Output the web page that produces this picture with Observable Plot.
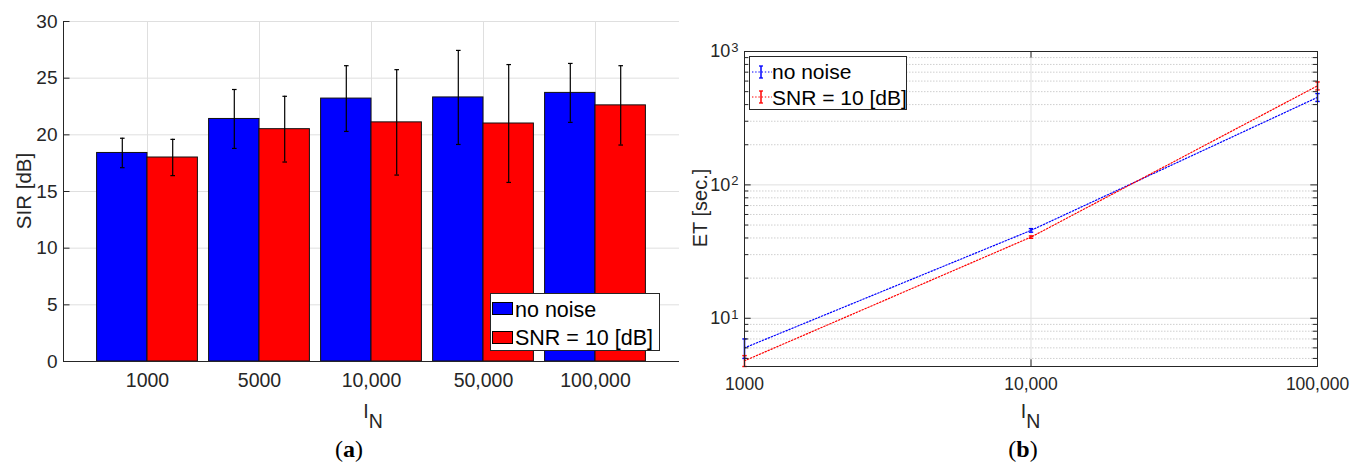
<!DOCTYPE html>
<html>
<head>
<meta charset="utf-8">
<script src="https://cdn.jsdelivr.net/npm/d3@7"></script>
<script src="https://cdn.jsdelivr.net/npm/@observablehq/plot@0.6"></script>
<style>
  body { margin: 0; background: #fff; }
  #wrap { position: relative; width: 1352px; height: 464px; overflow: hidden;
          font-family: "Liberation Sans", Arial, Helvetica, sans-serif; color: #262626; background:#fff; }
  #wrap svg { position: absolute; top: 0; }
  .lab { position: absolute; white-space: nowrap; line-height: 1; }
  .legend { position: absolute; box-sizing: border-box; border: 1px solid #262626; background: #fff; }
  .legend .sw { position: absolute; box-sizing: border-box; border: 1px solid #000; }
  .legend .tx { position: absolute; white-space: nowrap; line-height: 1; color: #000; }
  .cap { position: absolute; white-space: nowrap; line-height: 1; color: #000;
         font-family: "Liberation Serif", "DejaVu Serif", serif; font-size: 24px; transform: translateX(-50%); }
</style>
</head>
<body>
<div id="wrap"></div>
<script>
// ---------------- data ----------------
const categories = ["1000", "5000", "10,000", "50,000", "100,000"];
const series = ["no noise", "SNR = 10 [dB]"];
const sirNoNoise    = [18.4, 21.4, 23.2, 23.3, 23.7];
const sirNoNoiseErr = [1.3, 2.6, 2.9, 4.15, 2.6];
const sirSnr10      = [18.0, 20.5, 21.1, 21.0, 22.6];
const sirSnr10Err   = [1.6, 2.9, 4.65, 5.2, 3.5];
const sirTicks = [0, 5, 10, 15, 20, 25, 30];

const etIN = [1000, 10000, 100000];
const etNoNoise    = [6.0, 45.6, 453];
const etNoNoiseErr = [1.0, 1.4, 31];
const etSnr10      = [4.8, 40.6, 553];
const etSnr10Err   = [0.45, 0.8, 38];
const etXTickLabels = ["1000", "10,000", "100,000"];
const etYTicks = [10, 100, 1000];
const etYTickBase = "10";
const etYTickExponents = ["1", "2", "3"];

const colors = ["#0000ff", "#ff0000"];
const font = '"Liberation Sans", Arial, Helvetica, sans-serif';
const axisColor = "#262626";
const gridColor = "#dfdfdf";

// horizontal-line symbol for error-bar caps
const capSymbol = { draw(ctx, size) { const r = Math.sqrt(size / Math.PI); ctx.moveTo(-r, 0); ctx.lineTo(r, 0); } };

const wrap = document.getElementById("wrap");

// ---------------- (a) bar chart ----------------
const barRows = [];
categories.forEach((c, i) => {
  barRows.push({ pos: i + 1, side: -1, series: series[0], value: sirNoNoise[i], err: sirNoNoiseErr[i] });
  barRows.push({ pos: i + 1, side: 1, series: series[1], value: sirSnr10[i], err: sirSnr10Err[i] });
});
const bw = 0.45;
const xc = d => d.pos + d.side * bw / 2;

const LW = 700, LH = 400, LML = 63, LMR = 21, LMT = 21, LMB = 39;
const lpw = LW - LML - LMR;

const left = Plot.plot({
  width: LW, height: LH,
  marginLeft: LML, marginRight: LMR, marginTop: LMT, marginBottom: LMB,
  style: { fontFamily: font, fontSize: "19px", color: axisColor, background: "transparent", overflow: "visible" },
  x: { type: "linear", domain: [0.25, 5.75] },
  y: { domain: [0, 30] },
  color: { domain: series, range: colors },
  marks: [
    Plot.gridY(sirTicks, { stroke: gridColor, strokeOpacity: 1 }),
    Plot.gridX([1, 2, 3, 4, 5], { stroke: gridColor, strokeOpacity: 1 }),
    Plot.rectY(barRows, {
      x1: d => d.side < 0 ? d.pos - bw : d.pos,
      x2: d => d.side < 0 ? d.pos : d.pos + bw,
      y1: 0, y2: "value", fill: "series", stroke: "#111", strokeWidth: 1
    }),
    Plot.ruleX(barRows, { x: xc, y1: d => d.value - d.err, y2: d => d.value + d.err, stroke: "#000", strokeWidth: 1.2 }),
    Plot.dot(barRows, { x: xc, y: d => d.value + d.err, symbol: capSymbol, r: 2.3, stroke: "#000", fill: "none", strokeWidth: 1.2 }),
    Plot.dot(barRows, { x: xc, y: d => d.value - d.err, symbol: capSymbol, r: 2.3, stroke: "#000", fill: "none", strokeWidth: 1.2 }),
    Plot.tickY(sirTicks, { y: d => d, insetRight: lpw - 6.5, stroke: axisColor }),
    Plot.ruleX([0.25], { stroke: axisColor }),
    Plot.ruleY([0], { stroke: axisColor }),
    Plot.axisY({ ticks: sirTicks, tickSize: 0, tickPadding: 6, label: null, fill: axisColor, fontSize: 19 }),
    Plot.axisX({ ticks: [1, 2, 3, 4, 5], tickSize: 0, tickPadding: 12, label: null, fill: axisColor, fontSize: 19.5,
                 tickFormat: d => categories[d - 1] })
  ]
});
left.style.left = "0px";
wrap.appendChild(left);

// ---------------- (b) log-log line chart ----------------
const etRows = [];
etIN.forEach((n, i) => {
  etRows.push({ n, series: series[0], value: etNoNoise[i], err: etNoNoiseErr[i] });
  etRows.push({ n, series: series[1], value: etSnr10[i], err: etSnr10Err[i] });
});
const yMin = 4.35;
const minorY = [];
[1, 10, 100].forEach(dec => { for (let k = 2; k <= 9; k++) { const v = k * dec; if (v >= yMin && v < 1000) minorY.push(v); } });

const RW = 672, RH = 400, RML = 64, RMR = 35, RMT = 51, RMB = 34;
const rpw = RW - RML - RMR, rph = RH - RMT - RMB;

const right = Plot.plot({
  width: RW, height: RH,
  marginLeft: RML, marginRight: RMR, marginTop: RMT, marginBottom: RMB,
  style: { fontFamily: font, fontSize: "17.5px", color: axisColor, background: "transparent", overflow: "visible" },
  x: { type: "log", domain: [1000, 100000] },
  y: { type: "log", domain: [yMin, 1000] },
  color: { domain: series, range: colors },
  marks: [
    Plot.gridY(minorY, { stroke: "#cfcfcf", strokeOpacity: 1, strokeDasharray: "1.5,1.5" }),
    Plot.gridY([10, 100], { stroke: gridColor, strokeOpacity: 1 }),
    Plot.gridX([10000], { stroke: gridColor, strokeOpacity: 1 }),
    Plot.line(etRows, { x: "n", y: "value", z: "series", stroke: "series", strokeWidth: 1.2, strokeDasharray: "1.4,1.8" }),
    Plot.ruleX(etRows, { x: "n", y1: d => d.value - d.err, y2: d => d.value + d.err, stroke: "series", strokeWidth: 1.6 }),
    Plot.dot(etRows, { x: "n", y: d => d.value + d.err, symbol: capSymbol, r: 2.2, stroke: "series", fill: "none", strokeWidth: 1.4 }),
    Plot.dot(etRows, { x: "n", y: d => d.value - d.err, symbol: capSymbol, r: 2.2, stroke: "series", fill: "none", strokeWidth: 1.4 }),
    Plot.frame({ stroke: axisColor }),
    Plot.tickY(etYTicks, { y: d => d, insetRight: rpw - 6.7, stroke: axisColor }),
    Plot.tickY(etYTicks, { y: d => d, insetLeft: rpw - 6.7, stroke: axisColor }),
    Plot.tickY(minorY, { y: d => d, insetRight: rpw - 4.3, stroke: axisColor }),
    Plot.tickY(minorY, { y: d => d, insetLeft: rpw - 4.3, stroke: axisColor }),
    Plot.tickX([10000], { x: d => d, insetTop: rph - 6.7, stroke: axisColor }),
    Plot.tickX([10000], { x: d => d, insetBottom: rph - 6.7, stroke: axisColor }),
    Plot.axisY({ ticks: etYTicks, tickSize: 0, tickPadding: 16, label: null, fill: axisColor, fontSize: 18,
                 tickFormat: d => etYTickBase }),
    Plot.axisX({ ticks: etIN, tickSize: 0, tickPadding: 11, label: null, fill: axisColor, fontSize: 17.5,
                 tickFormat: d => etXTickLabels[etIN.indexOf(d)] })
  ]
});
// add superscript exponents to the "10" tick labels
{
  const texts = right.querySelectorAll('g[aria-label="y-axis tick label"] text');
  texts.forEach((t, i) => {
    const ts = document.createElementNS("http://www.w3.org/2000/svg", "tspan");
    ts.setAttribute("dy", "-0.42em");
    ts.setAttribute("dx", "1");
    ts.setAttribute("font-size", "13");
    ts.textContent = etYTickExponents[i];
    t.appendChild(ts);
    t.setAttribute("transform", (t.getAttribute("transform") || "") + " translate(10,0)");
  });
}
right.style.left = "680px";
wrap.appendChild(right);

// ---------------- labels ----------------
function addLabel(html, x, y, opts = {}) {
  const el = document.createElement("div");
  el.className = "lab";
  el.innerHTML = html;
  el.style.left = x + "px";
  el.style.top = y + "px";
  el.style.fontSize = (opts.size || 20) + "px";
  el.style.transform = opts.rotate ? "translate(-50%,-50%) rotate(-90deg)" : "translate(-50%,-50%)";
  wrap.appendChild(el);
  return el;
}
addLabel("SIR [dB]", 24, 191, { rotate: true, size: 20.5 });
addLabel("ET [sec.]", 700, 208, { rotate: true, size: 20 });
addLabel('I<span style="position:relative;top:10px">N</span>', 373, 412, { size: 19.5 });
addLabel('I<span style="position:relative;top:10px">N</span>', 1030.5, 412, { size: 19.5 });

function addCaption(letter, x) {
  const el = document.createElement("div");
  el.className = "cap";
  el.innerHTML = "(<b>" + letter + "</b>)";
  el.style.left = x + "px";
  el.style.top = "437px";
  wrap.appendChild(el);
}
addCaption("a", 349);
addCaption("b", 1023);

// ---------------- legends ----------------
const legA = document.createElement("div");
legA.className = "legend";
Object.assign(legA.style, { left: "490px", top: "293px", width: "170px", height: "58px" });
series.forEach((s, i) => {
  const sw = document.createElement("div");
  sw.className = "sw";
  Object.assign(sw.style, { left: "1px", top: (8 + i * 28.5) + "px", width: "21px", height: "13px", background: colors[i] });
  legA.appendChild(sw);
  const tx = document.createElement("div");
  tx.className = "tx";
  tx.textContent = s;
  Object.assign(tx.style, { left: "24px", top: (16.5 + i * 28.5 - 11) + "px", fontSize: "21.5px" });
  legA.appendChild(tx);
});
wrap.appendChild(legA);

const legB = document.createElement("div");
legB.className = "legend";
Object.assign(legB.style, { left: "749px", top: "56px", width: "158px", height: "54px" });
series.forEach((s, i) => {
  const cy = 14.5 + i * 25.5;
  const svg = d3.create("svg").attr("width", 22).attr("height", 16)
    .style("position", "absolute").style("left", "1px").style("top", (cy - 8) + "px");
  svg.append("line").attr("x1", 1).attr("x2", 21).attr("y1", 8).attr("y2", 8)
    .attr("stroke", colors[i]).attr("stroke-width", 1.2).attr("stroke-dasharray", "1.4,1.8");
  svg.append("line").attr("x1", 10).attr("x2", 10).attr("y1", 2).attr("y2", 14).attr("stroke", colors[i]).attr("stroke-width", 1.5);
  svg.append("line").attr("x1", 8).attr("x2", 12).attr("y1", 2).attr("y2", 2).attr("stroke", colors[i]).attr("stroke-width", 1.3);
  svg.append("line").attr("x1", 8).attr("x2", 12).attr("y1", 14).attr("y2", 14).attr("stroke", colors[i]).attr("stroke-width", 1.3);
  legB.appendChild(svg.node());
  const tx = document.createElement("div");
  tx.className = "tx";
  tx.textContent = s;
  Object.assign(tx.style, { left: "22px", top: (cy - 10.5) + "px", fontSize: "21px" });
  legB.appendChild(tx);
});
wrap.appendChild(legB);
</script>
</body>
</html>
